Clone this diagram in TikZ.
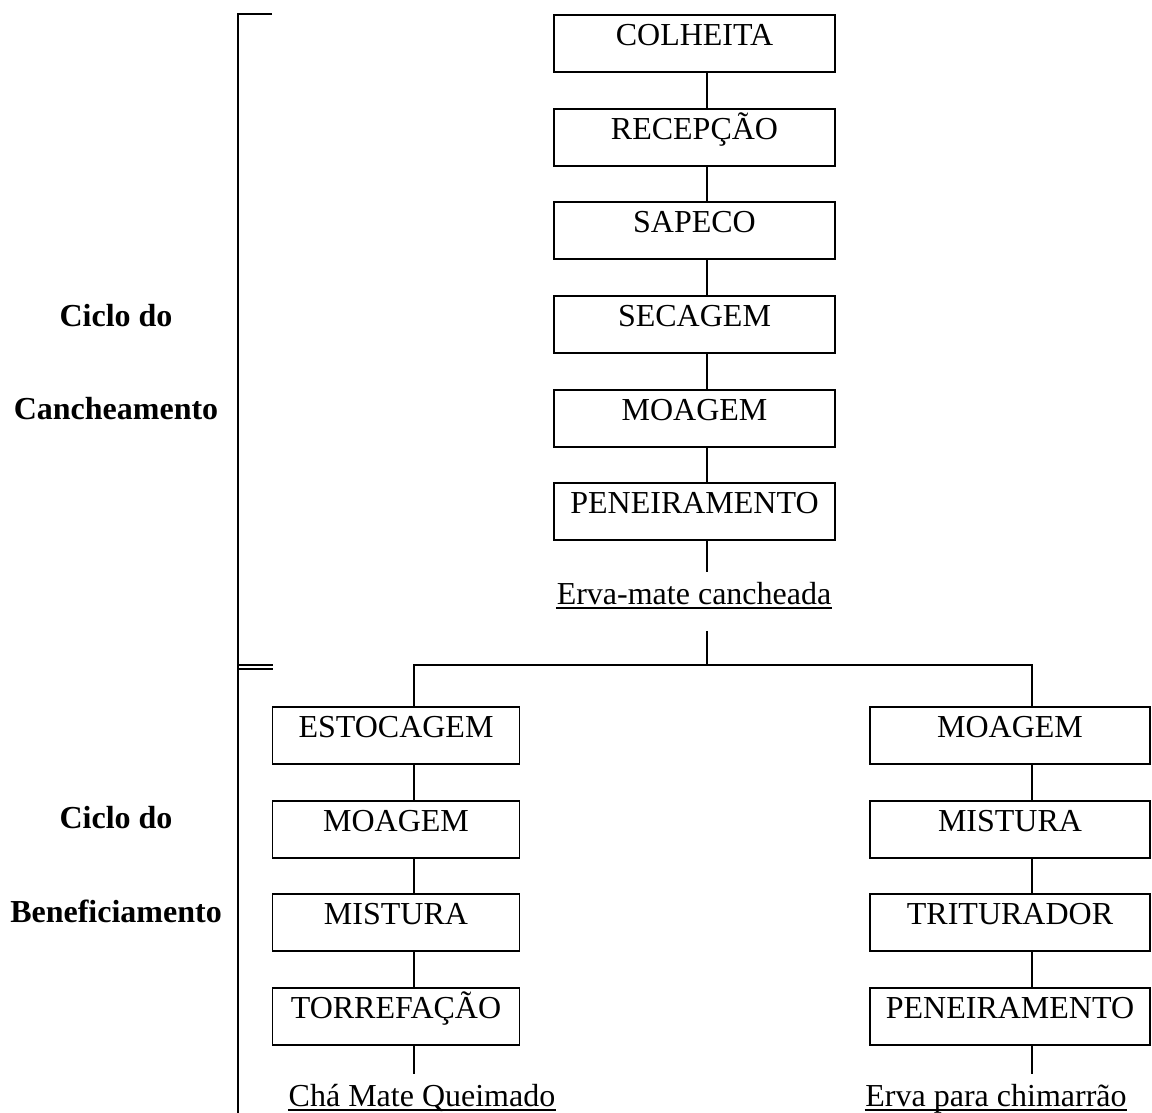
\documentclass[tikz,border=0pt]{standalone}
\usepackage{fontspec}
\setmainfont{Liberation Serif}
\begin{document}
\begin{tikzpicture}[x=0.5pt, y=-0.5pt, line width=0.9pt,
  every node/.style={font=\fontsize{16}{19}\selectfont},
  etapa/.style={draw, anchor=north, inner sep=0pt, text height=15.5pt, text depth=13pt, minimum width=140.5pt},
  etapaE/.style={etapa, minimum width=123.5pt},
  produto/.style={anchor=base, inner xsep=0pt, inner ysep=4.5pt, text height=11pt, text depth=8.5pt},
  ciclo/.style={anchor=base, font=\fontsize{16}{19}\selectfont\bfseries}]
\useasboundingbox (0,0) rectangle (1152,1113);
\coordinate (eixo) at (707,0);
\coordinate (esq) at (414,0);
\coordinate (dir) at (1032,0);
\coordinate (ramo) at (707,665);
% ciclo do cancheamento
\node [etapa] (c1) at (694.5,14)  {COLHEITA};
\node [etapa] (c2) at (694.5,108) {RECEPÇÃO};
\node [etapa] (c3) at (694.5,201) {SAPECO};
\node [etapa] (c4) at (694.5,295) {SECAGEM};
\node [etapa] (c5) at (694.5,389) {MOAGEM};
\node [etapa] (c6) at (694.5,482) {PENEIRAMENTO};
\node [produto] (cancheada) at (694,604) {Erva-mate cancheada};
\foreach \a/\b in {c1/c2, c2/c3, c3/c4, c4/c5, c5/c6}
  \draw (\a.south -| eixo) -- (\b.north -| eixo);
\draw (c6.south -| eixo) -- (cancheada.north -| eixo);
\draw (cancheada.south -| eixo) -- (ramo);
% ciclo do beneficiamento
\node [etapaE] (e1) at (396,706) {ESTOCAGEM};
\node [etapaE] (e2) at (396,800) {MOAGEM};
\node [etapaE] (e3) at (396,893) {MISTURA};
\node [etapaE] (e4) at (396,987) {TORREFAÇÃO};
\node [produto] (queimado) at (422,1106) {Chá Mate Queimado};
\node [etapa, minimum width=140pt] (d1) at (1010,706) {MOAGEM};
\node [etapa, minimum width=140pt] (d2) at (1010,800) {MISTURA};
\node [etapa, minimum width=140pt] (d3) at (1010,893) {TRITURADOR};
\node [etapa, minimum width=140pt] (d4) at (1010,987) {PENEIRAMENTO};
\node [produto] (chimarrao) at (996,1106) {Erva para chimarrão};
\draw (e1.north -| esq) -- (esq |- ramo) -- (dir |- ramo) -- (d1.north -| dir);
\foreach \a/\b in {e1/e2, e2/e3, e3/e4}
  \draw (\a.south -| esq) -- (\b.north -| esq);
\foreach \a/\b in {d1/d2, d2/d3, d3/d4}
  \draw (\a.south -| dir) -- (\b.north -| dir);
\draw (e4.south -| esq) -- (queimado.north -| esq);
\draw (d4.south -| dir) -- (chimarrao.north -| dir);
\foreach \n in {cancheada, queimado, chimarrao}
  \draw [line width=0.8pt] ([yshift=-2pt]\n.base west) -- ([yshift=-2pt]\n.base east);
% chave dos ciclos
\draw (272,14) -- (238,14) -- (238,1113);
\draw (238,665) -- (273,665);
\draw (238,669) -- (273,669);
\node [ciclo] (t1) at (116,326) {Ciclo do};
\node [ciclo] (t2) at (116,419) {Cancheamento};
\node [ciclo] (t3) at (116,828) {Ciclo do};
\node [ciclo] (t4) at (116,922) {Beneficiamento};
\end{tikzpicture}
\end{document}
